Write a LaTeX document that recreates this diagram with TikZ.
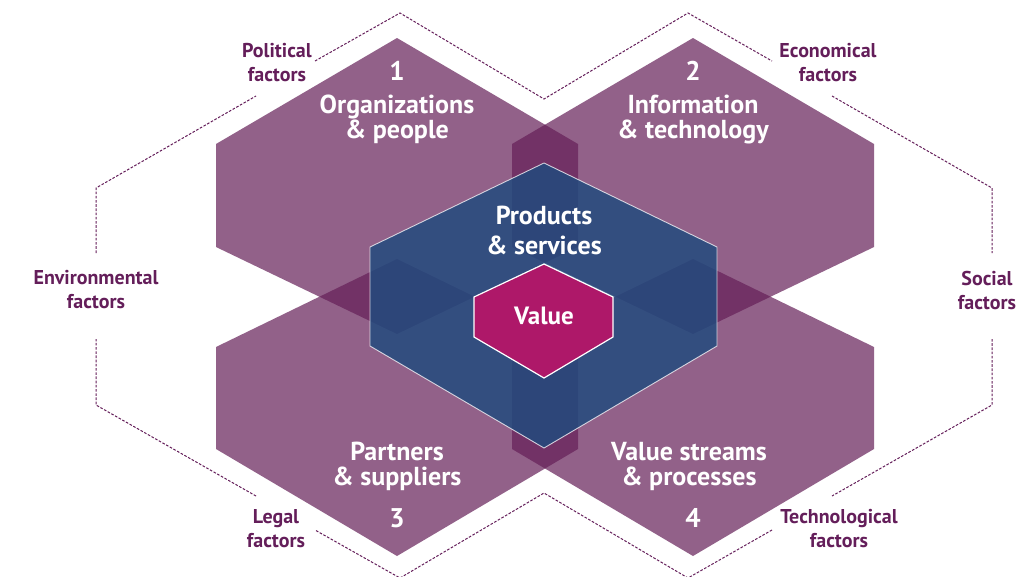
\documentclass[tikz,border=0pt]{standalone}
\usepackage{fontspec}
\setmainfont{PT Sans}
\definecolor{hexpurple}{RGB}{101,31,88}
\definecolor{hexblue}{RGB}{31,75,126}
\definecolor{valmag}{RGB}{174,24,105}
\definecolor{labpurple}{RGB}{100,30,90}
\begin{document}
\begin{tikzpicture}[x=1pt,y=-1pt,
  hexshape/.style={fill=hexpurple, fill opacity=0.7},
  prodshape/.style={fill=hexblue, fill opacity=0.82, draw=white, draw opacity=0.75, line width=0.9pt},
  valshape/.style={fill=valmag, draw=white, line width=1.2pt},
  envline/.style={draw=labpurple, line width=1pt, dash pattern=on 2.6pt off 1.6pt},
  factor/.style={text=labpurple, font=\fontsize{20}{24}\selectfont\bfseries, align=center, inner sep=0pt},
  hextext/.style={text=white, font=\fontsize{26}{25}\selectfont\bfseries, align=center, inner sep=0pt},
  hexnum/.style={text=white, font=\fontsize{27}{28}\selectfont\bfseries, inner sep=0pt},
]
\useasboundingbox (0,0) rectangle (1027,576);
\fill[white] (0,0) rectangle (1027,576);
% outer dashed frame
\draw[envline] (315,61) -- (400,13) -- (544,99) -- (688,13) -- (772,61);
\draw[envline] (832,96) -- (992,188) -- (992,253);
\draw[envline] (992,339) -- (992,405) -- (832,496);
\draw[envline] (772,530) -- (688,578) -- (544,493) -- (400,578) -- (315,530);
\draw[envline] (256,496) -- (96,405) -- (96,339);
\draw[envline] (96,253) -- (96,188) -- (256,96);
% four hexagons
\path[hexshape] (397,38) -- (578,144) -- (578,247) -- (397,334) -- (216,247) -- (216,144) -- cycle;
\path[hexshape] (693,38) -- (874,144) -- (874,247) -- (693,334) -- (512,247) -- (512,144) -- cycle;
\path[hexshape] (397,259) -- (578,347) -- (578,449) -- (397,556) -- (216,449) -- (216,347) -- cycle;
\path[hexshape] (693,259) -- (874,347) -- (874,449) -- (693,556) -- (512,449) -- (512,347) -- cycle;
% products & services
\path[prodshape] (544,163) -- (717,247) -- (717,346) -- (544,448) -- (370,346) -- (370,247) -- cycle;
% value
\path[valshape] (544,264) -- (613,297) -- (613,337) -- (544,378) -- (474,337) -- (474,297) -- cycle;
% texts
\node[hexnum] (n1) at (397,71) {1};
\node[hextext] (t1) at (397,119.5) {Organizations\\\& people};
\node[hexnum] (n2) at (693,71) {2};
\node[hextext] (t2) at (693,119.5) {Information\\\& technology};
\node[hextext, font=\fontsize{26}{30}\selectfont\bfseries] (tp) at (544,230.5) {Products\\\& services};
\node[hextext, font=\fontsize{25}{26}\selectfont\bfseries] (tv) at (544,316) {Value};
\node[hextext] (t3) at (397,466.5) {Partners\\\& suppliers};
\node[hexnum] (n3) at (397,518) {3};
\node[hextext] (t4) at (689,466.5) {Value streams\\\& processes};
\node[hexnum] (n4) at (693,518) {4};
\node[factor] (fpol) at (277,63) {Political\\factors};
\node[factor] (feco) at (828,63) {Economical\\factors};
\node[factor] (fenv) at (96,290) {Environmental\\factors};
\node[factor] (fsoc) at (987,290) {Social\\factors};
\node[factor] (fleg) at (276,528.5) {Legal\\factors};
\node[factor] (ftec) at (839,528.5) {Technological\\factors};
\end{tikzpicture}
\end{document}
